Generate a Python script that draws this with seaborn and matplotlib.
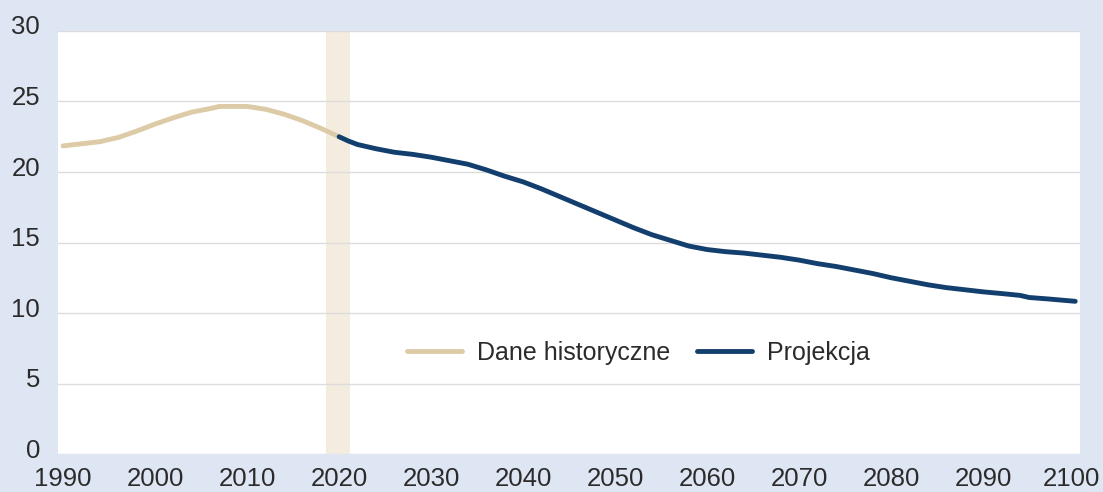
import matplotlib
matplotlib.use("Agg")
import matplotlib.pyplot as plt
import matplotlib.transforms as mtransforms
import pandas as pd
import seaborn as sns

# Data
hist_years = [1990, 1992, 1994, 1996, 1998, 2000, 2002, 2004, 2006, 2007, 2010,
              2012, 2014, 2016, 2018, 2020]
hist_vals = [21.85, 22.0, 22.15, 22.45, 22.9, 23.4, 23.85, 24.25, 24.5, 24.65, 24.65,
             24.45, 24.1, 23.65, 23.1, 22.5]

proj_years = [2020, 2021, 2022, 2024, 2026, 2028, 2030, 2032, 2034, 2036, 2038,
              2040, 2042, 2044, 2046, 2048, 2050, 2052, 2054, 2056, 2058, 2060,
              2062, 2064, 2066, 2068, 2070, 2072, 2074, 2076, 2078, 2080, 2082,
              2084, 2086, 2088, 2090, 2092, 2094, 2095, 2097, 2100]
proj_vals = [22.5, 22.2, 21.95, 21.65, 21.4, 21.25, 21.05, 20.8, 20.55, 20.15, 19.7,
             19.3, 18.8, 18.25, 17.7, 17.15, 16.6, 16.05, 15.55, 15.15, 14.75, 14.5,
             14.35, 14.25, 14.1, 13.95, 13.75, 13.5, 13.3, 13.05, 12.8, 12.5, 12.25,
             12.0, 11.8, 11.65, 11.5, 11.38, 11.25, 11.1, 11.0, 10.83]

series_names = ["Dane historyczne", "Projekcja"]
band = [2018.6, 2021.2]
x_ticks = list(range(1990, 2101, 10))
y_ticks = [0, 5, 10, 15, 20, 25, 30]

df = pd.concat([
    pd.DataFrame({"rok": hist_years, "wartosc": hist_vals, "seria": series_names[0]}),
    pd.DataFrame({"rok": proj_years, "wartosc": proj_vals, "seria": series_names[1]}),
])

bg = "#dfe6f3"
colors = {series_names[0]: "#dccba6", series_names[1]: "#133f6e"}

sns.set_style("white")
plt.rcParams["font.family"] = ["Liberation Sans", "DejaVu Sans"]

fig = plt.figure(figsize=(11.03, 4.92), dpi=100, facecolor=bg)
ax = fig.add_axes([0.0526, 0.0772, 0.979 - 0.0526, 0.937 - 0.0772])
ax.set_facecolor("white")

ax.axvspan(band[0], band[1], color="#f5ece0", lw=0, zorder=0)

sns.lineplot(data=df, x="rok", y="wartosc", hue="seria", palette=colors,
             linewidth=3.5, ax=ax, solid_capstyle="round", solid_joinstyle="round",
             zorder=3)

ax.set_xlim(1989.45, 2100.5)
ax.set_ylim(0, 30)
ax.set_xticks(x_ticks)
ax.set_yticks(y_ticks)
ax.set_xlabel("")
ax.set_ylabel("")
ax.grid(axis="y", color="#dcdcdc", lw=1.0)
ax.set_axisbelow(True)
for s in ax.spines.values():
    s.set_visible(False)

ax.tick_params(axis="both", length=0, labelsize=18.5, labelcolor="#2b2b2b")
ax.tick_params(axis="y", pad=13)
ax.tick_params(axis="x", pad=9)
offset = mtransforms.ScaledTranslation(0, 6 / 100, fig.dpi_scale_trans)
for lab in ax.get_yticklabels():
    lab.set_transform(lab.get_transform() + offset)
# keep the last year label inside the canvas
last = ax.get_xticklabels()[-1]
last.set_transform(last.get_transform()
                   + mtransforms.ScaledTranslation(-4 / 100, 0, fig.dpi_scale_trans))

leg = ax.legend(loc="center", bbox_to_anchor=(0.568, 0.239), ncol=2, frameon=False,
                fontsize=18, handlelength=2.2, columnspacing=1.1, handletextpad=0.6)
for t in leg.get_texts():
    t.set_color("#2b2b2b")
for h in leg.get_lines():
    h.set_linewidth(3.5)

fig.savefig("out.png", dpi=100, facecolor=bg)
